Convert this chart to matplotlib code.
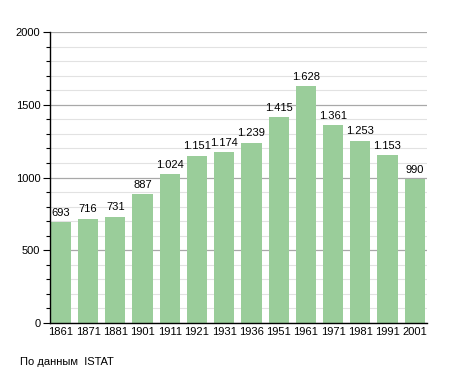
import matplotlib
matplotlib.use("Agg")
import matplotlib.pyplot as plt
from matplotlib.ticker import MultipleLocator

YEARS  = ["1861", "1871", "1881", "1901", "1911", "1921", "1931",
          "1936", "1951", "1961", "1971", "1981", "1991", "2001"]
VALUES = [693, 716, 731, 887, 1024, 1151, 1174,
          1239, 1415, 1628, 1361, 1253, 1153, 990]
SOURCE = "По данным  ISTAT"

BAR_COLOR = "#9acd9a"

plt.rcParams["font.family"] = ["Liberation Sans", "DejaVu Sans"]

fig = plt.figure(figsize=(4.55, 3.73), dpi=100)
ax = fig.add_axes([50 / 455, 1 - 323 / 373, 377 / 455, 291 / 373])

x = list(range(len(YEARS)))
ax.bar(x, VALUES, width=0.74, color=BAR_COLOR, zorder=3)

for xi, v in zip(x, VALUES):
    label = f"{v:,}".replace(",", ".")
    ax.text(xi, v + 30, label, ha="center", va="bottom", fontsize=8, zorder=4)

ax.set_xlim(-0.4, 13.45)
ax.set_ylim(0, 2000)
ax.yaxis.set_major_locator(MultipleLocator(500))
ax.yaxis.set_minor_locator(MultipleLocator(100))
ax.grid(True, axis="y", which="major", color="#a8a8a8", linewidth=0.9, zorder=0)
ax.grid(True, axis="y", which="minor", color="#e2e2e2", linewidth=0.8, zorder=0)

ax.set_xticks(x)
ax.set_xticklabels(YEARS, fontsize=8)
ax.tick_params(axis="x", length=0, pad=3)
ax.tick_params(axis="y", which="major", length=5, width=0.8, labelsize=8, pad=2)
ax.tick_params(axis="y", which="minor", length=3, width=0.8)

for s in ("top", "right"):
    ax.spines[s].set_visible(False)
ax.spines["left"].set_linewidth(1)
ax.spines["bottom"].set_linewidth(1)
ax.spines["left"].set_zorder(5)
ax.spines["bottom"].set_zorder(5)

fig.text(20 / 455, 1 - 362 / 373, SOURCE, fontsize=8, va="center", ha="left")

fig.savefig("out.png", dpi=100)
